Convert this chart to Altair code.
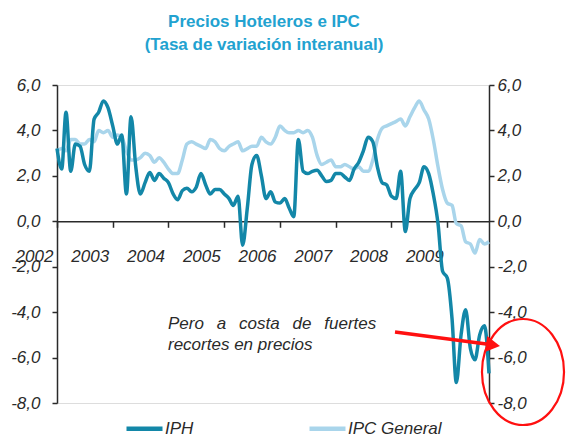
import altair as alt
import pandas as pd

# ---------------- data (monthly, Jan 2002 - Oct 2009) ----------------
IPH = [
    3.2, 2.3, 4.8, 2.2, 3.4, 3.3, 2.5, 2.2, 4.5, 4.8, 5.3, 5.0,      # 2002
    4.2, 3.4, 3.8, 1.2, 4.6, 2.4, 1.2, 1.7, 2.15, 1.8, 2.1, 1.9,     # 2003
    1.7, 1.2, 0.95, 1.35, 1.45, 1.3, 1.5, 2.1, 1.6, 1.2, 1.4, 1.4,   # 2004
    1.2, 1.0, 0.7, 1.1, -1.05, 0.6, 2.5, 2.9, 2.0, 1.0, 1.3, 0.85,   # 2005
    0.8, 1.0, 0.6, 0.2, 3.6, 2.2, 2.1, 2.2, 2.25, 2.0, 1.75, 1.8,    # 2006
    2.1, 2.1, 1.95, 1.8, 2.3, 2.6, 3.1, 3.7, 3.5, 2.4, 1.7, 1.6,     # 2007
    1.1, 1.0, 2.2, -0.45, 1.0, 1.4, 1.7, 2.4, 2.1, 1.2, -0.1, -2.2,  # 2008
    -2.5, -4.3, -7.1, -5.0, -3.9, -5.6, -6.1, -5.0, -4.6, -6.7,      # 2009
]
IPC = [
    3.1, 3.2, 3.1, 3.6, 3.6, 3.4, 3.4, 3.6, 3.5, 4.0, 3.9, 4.0,
    3.7, 3.8, 3.7, 3.1, 2.7, 2.7, 2.8, 3.0, 2.9, 2.6, 2.8, 2.6,
    2.3, 2.1, 2.1, 2.7, 3.4, 3.5, 3.4, 3.3, 3.2, 3.6, 3.5, 3.2,
    3.1, 3.3, 3.4, 3.5, 3.1, 3.2, 3.3, 3.3, 3.7, 3.5, 3.4, 3.7,
    4.2, 4.0, 3.9, 3.9, 4.0, 3.9, 4.0, 3.7, 2.9, 2.5, 2.6, 2.7,
    2.4, 2.4, 2.5, 2.4, 2.3, 2.4, 2.2, 2.2, 2.7, 3.6, 4.1, 4.2,
    4.3, 4.4, 4.5, 4.2, 4.6, 5.0, 5.3, 4.9, 4.5, 3.6, 2.4, 1.4,
    0.8, 0.7, -0.1, -0.2, -0.9, -1.0, -1.4, -0.8, -1.0, -0.9,
]
SERIES = ["IPH", "IPC General"]
YEARS = [2002, 2003, 2004, 2005, 2006, 2007, 2008, 2009]
Y_TICKS = [-8, -6, -4, -2, 0, 2, 4, 6]
TITLE = ["Precios Hoteleros e IPC", "(Tasa de variación interanual)"]
SP = "\u00a0\u00a0\u2009"
NOTE = [SP.join(["Pero", "a", "costa", "de", "fuertes"]), "recortes en precios"]

dates = pd.date_range("2002-01-01", periods=len(IPH), freq="MS")
df = pd.concat([
    pd.DataFrame({"date": dates, "value": IPC, "serie": SERIES[1]}),
    pd.DataFrame({"date": dates, "value": IPH, "serie": SERIES[0]}),
])

# ---------------- style ----------------
W, H = 432, 318
FONT = "Liberation Sans, Arial, sans-serif"
FS = 17
DARK = "#1387a8"
LIGHT = "#a9d5eb"
TCOL = "#22a2d0"
TXT = "#2a2a2a"
YMIN, YMAX = -8, 6
ZERO_OFFSET = -H * (0 - YMIN) / (YMAX - YMIN)
LBL = "replace(replace(format(datum.value, '.1f'), '.', ','), '\u2212', '-')"

xenc = alt.X(
    "date:T",
    scale=alt.Scale(domain=[alt.DateTime(year=2002, month=1, date=1),
                            alt.DateTime(year=2009, month=10, date=1)], nice=False),
    axis=alt.Axis(values=[alt.DateTime(year=y, month=1, date=1) for y in YEARS],
                  format="%Y", title=None, grid=False, offset=ZERO_OFFSET,
                  domainColor=TXT, domainWidth=1.5, tickColor=TXT, tickWidth=1.5,
                  tickSize=6, labelOffset=-23, labelPadding=21, labelFont=FONT,
                  labelFontSize=FS, labelFontStyle="italic", labelColor=TXT,
                  labelFlush=False, labelOverlap=False),
)
yscale = alt.Scale(domain=[YMIN, YMAX], nice=False, zero=False)
yleft = alt.Y("value:Q", scale=yscale,
              axis=alt.Axis(values=Y_TICKS, labelExpr=LBL, title=None, grid=False,
                            orient="left", domainColor=TXT, domainWidth=1.5,
                            tickColor=TXT, tickWidth=1.5, tickSize=5, labelPadding=12,
                            labelFont=FONT, labelFontSize=FS, labelFontStyle="italic",
                            labelColor=TXT))
yright = alt.Y("value:Q", scale=yscale,
               axis=alt.Axis(values=Y_TICKS, labelExpr=LBL, title=None, grid=False,
                             orient="right", domainColor=TXT, domainWidth=1.5,
                             tickColor=TXT, tickWidth=1.5, tickSize=5, labelPadding=3,
                             labelFont=FONT, labelFontSize=FS, labelFontStyle="italic",
                             labelColor=TXT))
color = alt.Color("serie:N",
                  scale=alt.Scale(domain=SERIES, range=[DARK, LIGHT]),
                  legend=alt.Legend(orient="none", legendX=67, legendY=323,
                                    direction="horizontal", columns=2, columnPadding=106,
                                    symbolType="stroke", symbolSize=1296,
                                    symbolStrokeWidth=4.5, labelFont=FONT,
                                    labelFontSize=FS, labelFontStyle="italic",
                                    labelColor=TXT, labelOffset=0, title=None,
                                    padding=0, rowPadding=0))

base = alt.Chart(df)
ipc_line = base.transform_filter(alt.datum.serie == SERIES[1]).mark_line(
    strokeWidth=3.5, interpolate="monotone").encode(x=xenc, y=yleft, color=color)
iph_line = base.transform_filter(alt.datum.serie == SERIES[0]).mark_line(
    strokeWidth=3.5, interpolate="monotone").encode(x=xenc, y=yleft, color=color)
left = alt.layer(ipc_line, iph_line)
right = base.transform_filter(alt.datum.serie == SERIES[1]).mark_line(
    opacity=0).encode(x=xenc, y=yright)

one = alt.Chart(pd.DataFrame({"a": [0]}))
note = one.mark_text(text=NOTE, align="left", baseline="alphabetic", font=FONT,
                     fontSize=FS, fontStyle="italic", color=TXT, lineHeight=21
                     ).encode(x=alt.value(111), y=alt.value(244))
arrow = one.mark_rule(color="#ff1010", strokeWidth=3.5).encode(
    x=alt.value(338), y=alt.value(247), x2=alt.value(437), y2=alt.value(260))
head = one.mark_point(shape="triangle-right", filled=True, color="#ff1010",
                      size=260, angle=8, opacity=1).encode(
    x=alt.value(436), y=alt.value(260))
ELLIPSE = ("M0.774,0 C0.774,0.5523 0.4275,1 0,1 C-0.4275,1 -0.774,0.5523 -0.774,0 "
           "C-0.774,-0.5523 -0.4275,-1 0,-1 C0.4275,-1 0.774,-0.5523 0.774,0 Z")
ellipse = one.mark_point(shape=ELLIPSE, size=11236, filled=False, color="#ff1010",
                         strokeWidth=2.2, opacity=1).encode(
    x=alt.value(466), y=alt.value(287))

chart = alt.layer(left, right, note, arrow, head, ellipse).resolve_scale(
    y="independent"
).properties(
    width=W, height=H,
    autosize=alt.AutoSizeParams(type="none"),
    padding={"left": 49, "top": 77, "right": 77, "bottom": 36},
    title=alt.TitleParams(text=TITLE, font=FONT, fontSize=17, fontWeight="bold",
                          color=TCOL, anchor="middle", dx=-9, offset=22, lineHeight=23),
).configure_view(stroke=None).configure(background="white")

chart.save("out.html", embed_options={"renderer": "svg", "actions": False})
